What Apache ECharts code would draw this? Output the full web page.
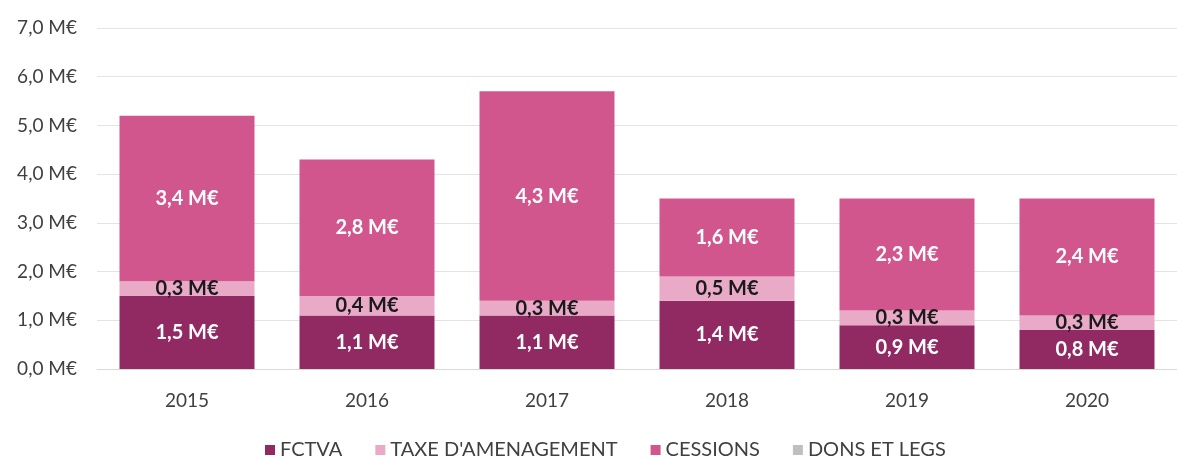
<!DOCTYPE html>
<html>
<head>
<meta charset="utf-8">
<script src="https://cdn.jsdelivr.net/npm/echarts@6/dist/echarts.min.js"></script>
<style>
  html, body { margin: 0; padding: 0; background: #ffffff; }
  #chart { width: 1177px; height: 460px; }
</style>
</head>
<body>
<div id="chart"></div>
<script>
// Recettes d'investissement par année (en millions d'euros)
const years = ['2015', '2016', '2017', '2018', '2019', '2020'];
const fctva = [1.5, 1.1, 1.1, 1.4, 0.9, 0.8];
const taxeAmenagement = [0.3, 0.4, 0.3, 0.5, 0.3, 0.3];
const cessions = [3.4, 2.8, 4.3, 1.6, 2.3, 2.4];
const donsEtLegs = [0, 0, 0, 0, 0, 0];
const yTicks = { min: 0, max: 7, interval: 1 };

const FONT = 'Lato, "Open Sans", sans-serif';
const fmt = v => v.toFixed(1).replace('.', ',') + ' M€';

function segment(name, data, color, labelColor) {
  return {
    name: name,
    type: 'bar',
    stack: 'total',
    data: data,
    barCategoryGap: '25%',
    itemStyle: { color: color },
    label: {
      show: true,
      position: 'inside',
      color: labelColor,
      fontFamily: FONT,
      fontWeight: 'bold',
      fontSize: 20,
      formatter: p => (p.value > 0 ? fmt(p.value) : '')
    }
  };
}

const chart = echarts.init(document.getElementById('chart'), null, { renderer: 'canvas' });
chart.setOption({
  animation: false,
  backgroundColor: '#ffffff',
  grid: { left: 97, right: -11, top: 28, bottom: 91, containLabel: false },
  legend: {
    top: 440,
    left: 265,
    padding: 0,
    itemWidth: 10,
    itemHeight: 10,
    itemGap: 33,
    icon: 'rect',
    textStyle: { fontFamily: FONT, fontSize: 20, color: '#404040' },
    data: ['FCTVA', "TAXE D'AMENAGEMENT", 'CESSIONS', 'DONS ET LEGS']
  },
  xAxis: {
    type: 'category',
    data: years,
    axisTick: { show: false },
    axisLine: { lineStyle: { color: '#d9d9d9' } },
    axisLabel: { fontFamily: FONT, fontSize: 19, color: '#404040', margin: 22 }
  },
  yAxis: {
    type: 'value',
    min: yTicks.min,
    max: yTicks.max,
    interval: yTicks.interval,
    axisLine: { show: false },
    axisTick: { show: false },
    splitLine: { lineStyle: { color: '#e3e3e3' } },
    axisLabel: {
      fontFamily: FONT, fontSize: 19, color: '#404040', margin: 20,
      formatter: v => fmt(v)
    }
  },
  series: [
    segment('FCTVA', fctva, '#912a62', '#ffffff'),
    segment("TAXE D'AMENAGEMENT", taxeAmenagement, '#e9aac8', '#1a1a1a'),
    segment('CESSIONS', cessions, '#d2568e', '#ffffff'),
    segment('DONS ET LEGS', donsEtLegs, '#bfbfbf', '#1a1a1a')
  ]
});
</script>
</body>
</html>
